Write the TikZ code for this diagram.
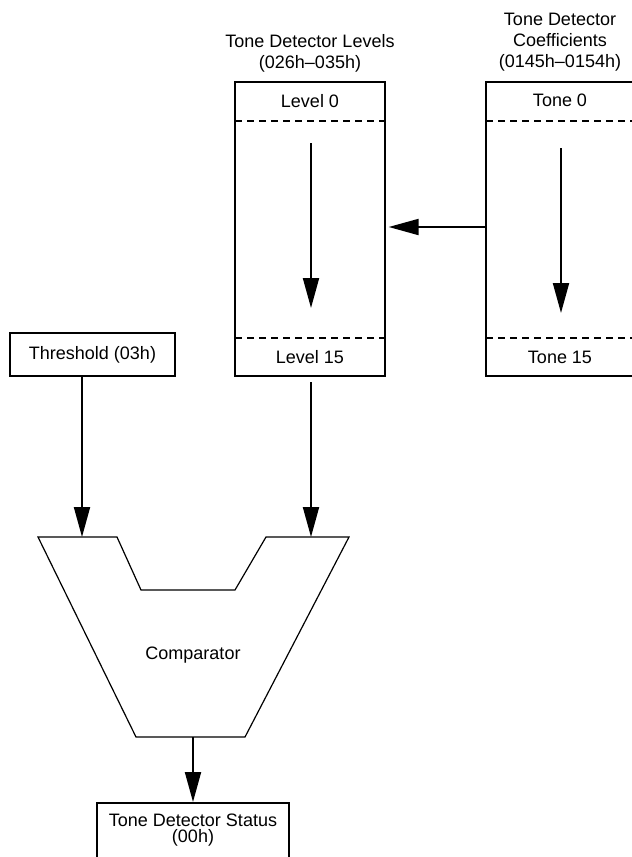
\documentclass[tikz,border=0pt]{standalone}
\usepackage{fontspec}
\setmainfont{Liberation Sans}
\usetikzlibrary{arrows.meta}
\tikzset{
  regbox/.style={draw, line width=1.5pt, inner sep=0pt},
  flow/.style={line width=1.5pt, -{Triangle[length=22.5pt,width=12pt]}},
  sepline/.style={line width=1.5pt, dash pattern=on 5pt off 4pt},
  lbl/.style={font=\fontsize{13.5}{15.75}\selectfont, inner sep=0pt, align=center},
}
\begin{document}
\begin{tikzpicture}[x=0.75pt,y=-0.75pt]
            \useasboundingbox (0,0) rectangle (632,857);
            % Draw the two register blocks
            \node[regbox, minimum width=112.5pt, minimum height=220.5pt] (lev) at (310,229) {};
            \node[regbox, minimum width=115.5pt, minimum height=220.5pt] (coe) at (563,229) {};
            \node[lbl] (levT) at (310,53.5) {Tone Detector Levels\\(026h--035h)};
            \node[lbl] (coeT) at (560,42) {Tone Detector\\Coefficients\\(0145h--0154h)};

            % Draw the first and last entries of each block
            \draw[sepline] (235,121) -- (385,121);
            \draw[sepline] (235,338) -- (385,338);
            \node[lbl] (lev0) at (310,101) {Level 0};
            \node[lbl] (lev15) at (310,357) {Level 15};

            \draw[sepline] (486,121) -- (632,121);
            \draw[sepline] (486,338) -- (632,338);
            \node[lbl] (tone0) at (560,100) {Tone 0};
            \node[lbl] (tone15) at (560,357) {Tone 15};

            % Draw the arrows through the blocks
            \coordinate (levA) at (311,143);
            \coordinate (levB) at (311,308);
            \coordinate (coeA) at (561,148);
            \coordinate (coeB) at (561,313);
            \draw[flow] (levA) -- (levB);
            \draw[flow] (coeA) -- (coeB);
            \draw[flow] ([yshift=1.5pt]coe.west) -- ([xshift=2pt,yshift=1.5pt]lev.east);

            % Draw the threshold register
            \node[regbox, minimum width=123.75pt, minimum height=32.25pt] (thr) at (92.5,354.5) {};
            \node[lbl] (thrT) at (92.5,355) {Threshold (03h)};

            % Draw the comparator
            \coordinate (in1) at (82,537);
            \coordinate (in2) at (311,537);
            \coordinate (out) at (193,737);
            \draw[line width=0.9pt] (38,537) -- (117,537) -- (141,590) -- (235,590)
                -- (266,537) -- (349,537) -- (245,737) -- (136,737) -- cycle;
            \node[lbl] (cmp) at (193,655) {Comparator};

            \draw[flow] (thr.south -| in1) -- (in1);
            \draw[flow] ([yshift=-4pt]lev.south -| in2) -- (in2);

            % Draw the status register
            \node[regbox, minimum width=144pt, minimum height=50.25pt] (stat) at (193,836.5) {};
            \node[lbl, font=\fontsize{13.5}{12}\selectfont] (statT) at (193,830) {Tone Detector Status\\(00h)};
            \draw[flow] (out) -- (stat.north);
\end{tikzpicture}
\end{document}
